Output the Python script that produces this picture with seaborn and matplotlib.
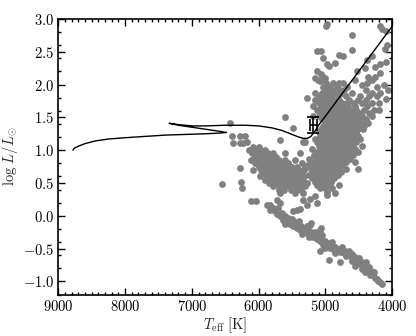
import numpy as np
import pandas as pd
import seaborn as sns
import matplotlib
matplotlib.use("Agg")
import matplotlib.pyplot as plt
from matplotlib.ticker import MultipleLocator, FuncFormatter

# stars: (Teff [K], log L/Lsun)
sparse_pts = [(6430, 1.41), (6405, 1.21), (6280, 1.21), (6205, 1.22), (6380, 1.11),
              (6280, 1.11), (6230, 1.11), (6180, 1.12), (6280, 0.73), (6270, 0.52),
              (6250, 0.43), (6550, 0.48), (6120, 0.23), (6040, 0.22), (5605, 1.50),
              (5480, 1.34), (5680, 1.15), (5330, 1.13), (4520, 0.72)]

clump_pts = [(6080, 1.05), (6000, 1.05),
             (6150, 1.00), (6060, 1.00), (5980, 1.00), (5900, 1.00),
             (6100, 0.95), (6020, 0.95), (5940, 0.95), (5860, 0.95), (5780, 0.95), (5600, 0.96),
             (6060, 0.90), (5980, 0.90), (5900, 0.90), (5820, 0.90), (5740, 0.90), (5380, 0.96),
             (6120, 0.85), (6020, 0.85), (5940, 0.85), (5860, 0.85), (5780, 0.85), (5700, 0.85),
             (5600, 0.85), (5450, 0.85),
             (6060, 0.80), (5980, 0.80), (5900, 0.80), (5820, 0.80), (5740, 0.80), (5660, 0.80),
             (5560, 0.80), (5350, 0.80),
             (6000, 0.75), (5920, 0.75), (5840, 0.75), (5760, 0.75), (5680, 0.75), (5600, 0.75),
             (5500, 0.75), (5420, 0.75), (5300, 0.75),
             (6080, 0.70), (5960, 0.70), (5880, 0.70), (5800, 0.70), (5720, 0.70), (5640, 0.70),
             (5560, 0.70), (5480, 0.70), (5400, 0.70), (5320, 0.70),
             (5920, 0.65), (5840, 0.65), (5760, 0.65), (5680, 0.65), (5600, 0.65), (5520, 0.65),
             (5440, 0.65), (5360, 0.65),
             (5980, 0.60), (5880, 0.60), (5800, 0.60), (5720, 0.60), (5640, 0.60), (5560, 0.60),
             (5480, 0.60), (5400, 0.60), (5320, 0.60),
             (5900, 0.55), (5820, 0.55), (5740, 0.55), (5660, 0.55), (5580, 0.55), (5500, 0.55),
             (5420, 0.55), (5340, 0.55),
             (5840, 0.50), (5760, 0.50), (5680, 0.50), (5600, 0.50), (5520, 0.50), (5440, 0.50),
             (5360, 0.50), (5280, 0.50),
             (5780, 0.45), (5700, 0.45), (5620, 0.45), (5540, 0.45), (5460, 0.45), (5380, 0.45),
             (5300, 0.45),
             (5700, 0.40), (5620, 0.40), (5520, 0.40), (5440, 0.40), (5360, 0.40),
             (5680, 0.35), (5460, 0.35), (5330, 0.35)]

giant_pts = [(4970, 2.92), (4990, 2.89), (4180, 2.89), (4150, 2.85), (4100, 2.82),
             (4600, 2.75), (4080, 2.61), (4110, 2.55), (5130, 2.51), (5070, 2.51), (4610, 2.53),
             (4800, 2.45), (4740, 2.44), (4300, 2.43), (5040, 2.41), (4380, 2.38), (4090, 2.35),
             (4980, 2.31), (4940, 2.29), (4860, 2.33), (4180, 2.32), (4410, 2.26), (4260, 2.27),
             (5130, 2.20), (4530, 2.20), (4180, 2.17), (5070, 2.16), (4360, 2.12),
             (5030, 2.12), (4310, 2.07), (4260, 2.12), (5160, 2.10), (5010, 2.10),
             (5110, 2.07), (4560, 2.07), (5080, 2.05),
             (4990, 2.02), (4880, 2.02), (4800, 2.02), (4740, 2.02), (4380, 2.02), (4130, 2.00),
             (5040, 1.97), (4950, 1.97), (4830, 1.97), (4680, 1.97), (4460, 2.00), (4230, 1.97),
             (5000, 1.92), (4900, 1.92), (4780, 1.92), (4720, 1.92), (4400, 1.92), (4070, 1.92),
             (5150, 1.87), (5050, 1.87), (4960, 1.87), (4850, 1.87), (4750, 1.87), (4600, 1.87),
             (4300, 1.87), (4180, 1.87),
             (5280, 1.80), (5100, 1.82), (5000, 1.82), (4920, 1.82), (4820, 1.82), (4700, 1.82),
             (4480, 1.82), (4350, 1.82), (4230, 1.82),
             (5150, 1.77), (5050, 1.77), (4960, 1.77), (4880, 1.77), (4800, 1.77), (4650, 1.77),
             (4520, 1.77), (4400, 1.77), (4090, 1.78),
             (5100, 1.72), (5000, 1.72), (4920, 1.72), (4840, 1.72), (4760, 1.72), (4680, 1.72),
             (4580, 1.72), (4450, 1.72), (4300, 1.72), (4200, 1.72),
             (5180, 1.67), (5060, 1.67), (4980, 1.67), (4900, 1.67), (4820, 1.67), (4740, 1.67),
             (4660, 1.67), (4560, 1.67), (4380, 1.67),
             (5120, 1.62), (5040, 1.62), (4960, 1.62), (4880, 1.62), (4800, 1.62), (4720, 1.62),
             (4640, 1.62), (4550, 1.62), (4420, 1.62), (4280, 1.62), (4200, 1.62),
             (5070, 1.57), (4990, 1.57), (4910, 1.57), (4840, 1.57), (4760, 1.57), (4680, 1.57),
             (4600, 1.57), (4500, 1.57), (4350, 1.57),
             (5180, 1.52), (5100, 1.52), (5030, 1.52), (4950, 1.52), (4870, 1.52), (4790, 1.52),
             (4710, 1.52), (4630, 1.52), (4550, 1.52), (4460, 1.52), (4300, 1.52),
             (5050, 1.47), (4980, 1.47), (4900, 1.47), (4820, 1.47), (4740, 1.47), (4660, 1.47),
             (4580, 1.47), (4500, 1.47), (4400, 1.47),
             (5000, 1.42), (4930, 1.42), (4860, 1.42), (4780, 1.42), (4700, 1.42), (4620, 1.42),
             (4540, 1.42), (4460, 1.42), (4360, 1.42),
             (5040, 1.37), (4960, 1.37), (4890, 1.37), (4810, 1.37), (4730, 1.37), (4650, 1.37),
             (4570, 1.37), (4490, 1.37), (4420, 1.37),
             (5060, 1.32), (4980, 1.32), (4910, 1.32), (4840, 1.32), (4760, 1.32), (4680, 1.32),
             (4600, 1.32), (4520, 1.32), (4440, 1.32),
             (5100, 1.27), (5020, 1.27), (4940, 1.27), (4870, 1.27), (4790, 1.27), (4710, 1.27),
             (4630, 1.27), (4550, 1.27),
             (5080, 1.22), (5000, 1.22), (4920, 1.22), (4850, 1.22), (4770, 1.22), (4690, 1.22),
             (4610, 1.22), (4520, 1.22),
             (5150, 1.17), (5060, 1.17), (4990, 1.17), (4910, 1.17), (4830, 1.17), (4750, 1.17),
             (4670, 1.17), (4580, 1.17), (4480, 1.17),
             (5300, 1.12), (5120, 1.12), (5040, 1.12), (4960, 1.12), (4880, 1.12), (4800, 1.12),
             (4720, 1.12), (4640, 1.12), (4540, 1.12),
             (5100, 1.07), (5020, 1.07), (4940, 1.07), (4860, 1.07), (4780, 1.07), (4700, 1.07),
             (4610, 1.07), (4460, 1.07),
             (5200, 1.02), (5060, 1.02), (4980, 1.02), (4900, 1.02), (4820, 1.02), (4740, 1.02),
             (4660, 1.02), (4560, 1.02),
             (5120, 0.97), (5040, 0.97), (4960, 0.97), (4880, 0.97), (4800, 0.97), (4720, 0.97),
             (4620, 0.97), (4510, 0.97),
             (5170, 0.92), (5090, 0.92), (5010, 0.92), (4930, 0.92), (4850, 0.92), (4770, 0.92),
             (4690, 0.92), (4590, 0.92),
             (5240, 0.87), (5140, 0.87), (5060, 0.87), (4980, 0.87), (4900, 0.87), (4820, 0.87),
             (4740, 0.87), (4640, 0.87),
             (5200, 0.82), (5110, 0.82), (5030, 0.82), (4950, 0.82), (4870, 0.82), (4790, 0.82),
             (4700, 0.82), (4560, 0.82),
             (5260, 0.77), (5160, 0.77), (5080, 0.77), (5000, 0.77), (4920, 0.77), (4840, 0.77),
             (4750, 0.77),
             (5220, 0.72), (5140, 0.72), (5060, 0.72), (4980, 0.72), (4900, 0.72), (4800, 0.72),
             (4700, 0.72),
             (5180, 0.67), (5100, 0.67), (5020, 0.67), (4940, 0.67), (4860, 0.67), (4770, 0.67),
             (5240, 0.62), (5150, 0.62), (5070, 0.62), (4990, 0.62), (4910, 0.62), (4820, 0.62),
             (5200, 0.57), (5120, 0.57), (5040, 0.57), (4960, 0.57), (4870, 0.57),
             (5160, 0.52), (5080, 0.52), (5000, 0.52), (4920, 0.52),
             (5120, 0.47), (5040, 0.47), (4960, 0.47), (4800, 0.47),
             (5080, 0.42), (5000, 0.42), (4900, 0.42),
             (4980, 0.37), (4860, 0.35)]

ms_pts = [(5880, 0.17), (5830, 0.09), (5830, 0.17), (5780, 0.12), (5760, 0.07), (5730, 0.02),
          (5730, 0.24), (5710, 0.12), (5680, 0.19), (5680, -0.01), (5650, 0.04), (5630, -0.06),
          (5610, -0.01), (5580, -0.09), (5560, -0.04), (5530, -0.12), (5510, -0.07),
          (5480, -0.15), (5460, -0.10), (5430, -0.18), (5410, -0.13), (5380, -0.21),
          (5360, -0.16), (5330, -0.24), (5310, -0.19), (5280, -0.26), (5260, -0.22),
          (5230, -0.29), (5210, -0.25), (5180, -0.32), (5160, -0.28), (5130, -0.36),
          (5110, -0.31), (5080, -0.39), (5060, -0.35), (5030, -0.44), (5010, -0.39),
          (4980, -0.46), (4960, -0.42), (4930, -0.49), (4910, -0.45), (4880, -0.51),
          (4860, -0.47), (4830, -0.53), (4810, -0.50), (4780, -0.55), (4760, -0.52),
          (4730, -0.57), (4710, -0.54), (4680, -0.60), (4660, -0.57), (4630, -0.62),
          (4610, -0.59), (4580, -0.66), (4560, -0.63), (4530, -0.72), (4510, -0.68),
          (4480, -0.73), (4460, -0.70), (4430, -0.76), (4380, -0.80), (4350, -0.78),
          (4320, -0.84), (4290, -0.90), (4260, -0.95), (4230, -0.97), (4210, -1.00),
          (4180, -1.01), (4160, -1.04),
          (5600, -0.12), (5500, -0.05), (5400, -0.08), (5350, -0.28), (5250, -0.33),
          (5150, -0.24), (5050, -0.30), (5000, -0.49), (4900, -0.40), (4850, -0.57),
          (4750, -0.48), (4700, -0.62), (4650, -0.53), (4600, -0.69), (4500, -0.64),
          (4450, -0.81), (4400, -0.71), (4330, -0.91), (4270, -0.86),
          (5280, -0.16), (5230, -0.14), (5210, -0.11), (5080, -0.21), (5060, -0.18),
          (5480, 0.07), (5430, 0.09), (5380, 0.11), (5330, 0.24), (5280, 0.17),
          (5230, 0.25), (5160, 0.30), (5120, 0.19), (4980, 0.32),
          (5080, -0.54), (4950, -0.67), (4780, -0.70), (4560, -0.77), (4410, -0.86)]

# evolutionary track
track_teff = [8780, 8760, 8700, 8600, 8450, 8250, 8000, 7700, 7400, 7100, 6800, 6600, 6480,
              6600, 6800, 7000, 7200, 7340, 7200, 7000, 6800, 6500, 6200, 6000, 5800, 5650,
              5500, 5400, 5330, 5270, 5220, 5170, 5110, 4000, 3950]
track_logl = [1.00, 1.03, 1.06, 1.10, 1.14, 1.17, 1.19, 1.21, 1.23, 1.24, 1.25, 1.26, 1.27,
              1.29, 1.32, 1.35, 1.38, 1.41, 1.39, 1.37, 1.37, 1.38, 1.38, 1.37, 1.34, 1.30,
              1.24, 1.20, 1.18, 1.18, 1.21, 1.27, 1.37, 2.89, 2.96]

# the measured star with uncertainties
star_teff, star_teff_err = 5180, 50
star_logl, star_logl_err = 1.38, 0.12

stars = pd.DataFrame(sparse_pts + clump_pts + giant_pts + ms_pts, columns=["teff", "logl"])
track = pd.DataFrame({"teff": track_teff, "logl": track_logl})

sns.set_style("ticks")
plt.rcParams["mathtext.fontset"] = "cm"
plt.rcParams["font.family"] = ["DejaVu Serif"]

fig = plt.figure(figsize=(4.16, 3.36), dpi=100)
ax = fig.add_axes([0.140, 0.1235, 0.803, 0.82])

sns.scatterplot(data=stars, x="teff", y="logl", color="#808080", s=24, linewidth=0,
                ax=ax, zorder=1)
sns.lineplot(data=track, x="teff", y="logl", sort=False, estimator=None, color="k",
             lw=1.0, ax=ax, zorder=3)
ax.errorbar(star_teff, star_logl, xerr=star_teff_err, yerr=star_logl_err, fmt="none",
            ecolor="k", elinewidth=1.2, capsize=4, capthick=1.2, zorder=4)

ax.set_xlim(9000, 4000)
ax.set_ylim(-1.2, 3.0)
ax.xaxis.set_major_locator(MultipleLocator(1000))
ax.xaxis.set_minor_locator(MultipleLocator(100))
ax.yaxis.set_major_locator(MultipleLocator(0.5))
ax.yaxis.set_minor_locator(MultipleLocator(0.2))
ax.xaxis.set_major_formatter(FuncFormatter(lambda v, p: r"$%d$" % v))
ax.yaxis.set_major_formatter(FuncFormatter(lambda v, p: r"$%.1f$" % v))
ax.tick_params(which="both", direction="in", top=True, right=True, width=1,
               labelsize=10.5, colors="k")
ax.tick_params(which="major", length=5, pad=3)
ax.tick_params(which="minor", length=2.5)
for sp in ax.spines.values():
    sp.set_linewidth(1.2)
    sp.set_color("k")

ax.set_xlabel(r"$T_{\rm eff}\ [\rm K]$", fontsize=10.5, labelpad=1)
ax.set_ylabel(r"$\log\, L/L_{\odot}$", fontsize=10.5, labelpad=2)

fig.savefig("out.png", dpi=100)
